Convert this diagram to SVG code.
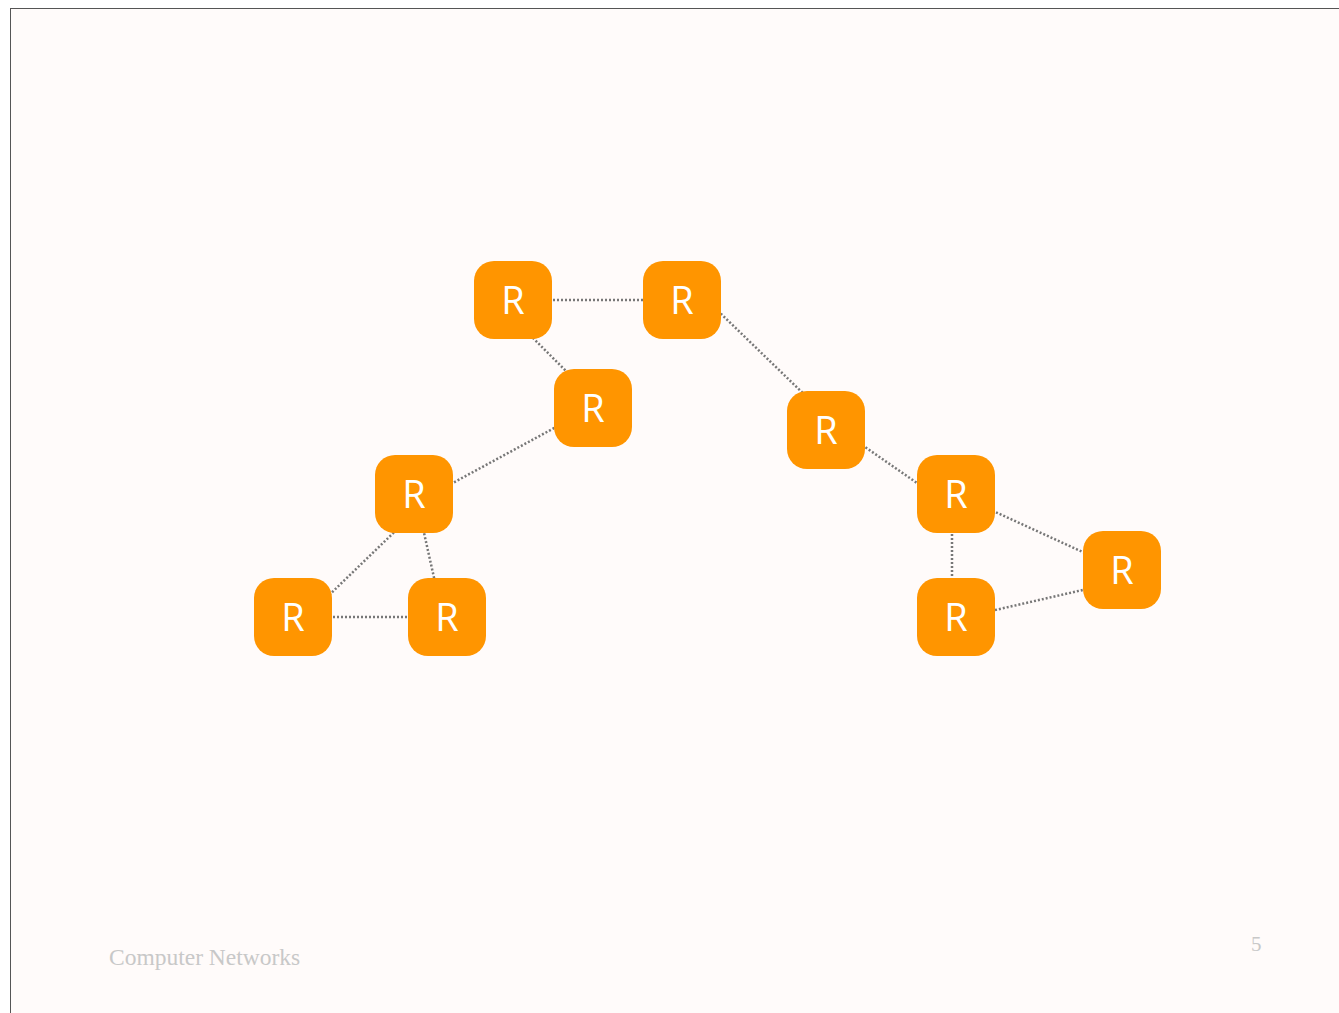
<svg xmlns="http://www.w3.org/2000/svg" width="1339" height="1013" viewBox="0 0 1339 1013">
<style>
.node rect{fill:#ff9500;}
.node text{fill:#ffffff;font-family:"Open Sans","Noto Sans",sans-serif;font-size:38px;text-anchor:middle;}
#connectors line{stroke:#777777;stroke-width:2.5;stroke-dasharray:2 2;fill:none;}
.foot{fill:#c8c8c8;font-family:"Liberation Serif",serif;}
</style>
<rect x="0" y="0" width="1339" height="1013" fill="#ffffff"/>
<rect x="10.5" y="8.5" width="1340" height="1020" fill="#fffbfa" stroke="#555555" stroke-width="1"/>
<g id="connectors">
<line x1="513" y1="300" x2="682" y2="300"/>
<line x1="513" y1="318" x2="593" y2="398"/>
<line x1="593" y1="407" x2="414" y2="504"/>
<line x1="715" y1="308" x2="810" y2="400"/>
<line x1="826" y1="420" x2="956" y2="510"/>
<line x1="952" y1="494" x2="952" y2="617"/>
<line x1="956" y1="494" x2="1122" y2="570"/>
<line x1="956" y1="619" x2="1122" y2="581"/>
<line x1="414" y1="513" x2="293" y2="630"/>
<line x1="418" y1="506" x2="441" y2="609"/>
<line x1="293" y1="617" x2="447" y2="617"/>
</g>
<g id="n1" class="node"><rect x="474" y="261" width="78" height="78" rx="20"/><text x="513" y="314">R</text></g>
<g id="n2" class="node"><rect x="643" y="261" width="78" height="78" rx="20"/><text x="682" y="314">R</text></g>
<g id="n3" class="node"><rect x="554" y="369" width="78" height="78" rx="20"/><text x="593" y="422">R</text></g>
<g id="n4" class="node"><rect x="375" y="455" width="78" height="78" rx="20"/><text x="414" y="508">R</text></g>
<g id="n5" class="node"><rect x="254" y="578" width="78" height="78" rx="20"/><text x="293" y="631">R</text></g>
<g id="n6" class="node"><rect x="408" y="578" width="78" height="78" rx="20"/><text x="447" y="631">R</text></g>
<g id="n7" class="node"><rect x="787" y="391" width="78" height="78" rx="20"/><text x="826" y="444">R</text></g>
<g id="n8" class="node"><rect x="917" y="455" width="78" height="78" rx="20"/><text x="956" y="508">R</text></g>
<g id="n9" class="node"><rect x="1083" y="531" width="78" height="78" rx="20"/><text x="1122" y="584">R</text></g>
<g id="n10" class="node"><rect x="917" y="578" width="78" height="78" rx="20"/><text x="956" y="631">R</text></g>
<text class="foot" x="109" y="965" font-size="23.5">Computer Networks</text>
<text class="foot" x="1251" y="951" font-size="21">5</text>
</svg>
